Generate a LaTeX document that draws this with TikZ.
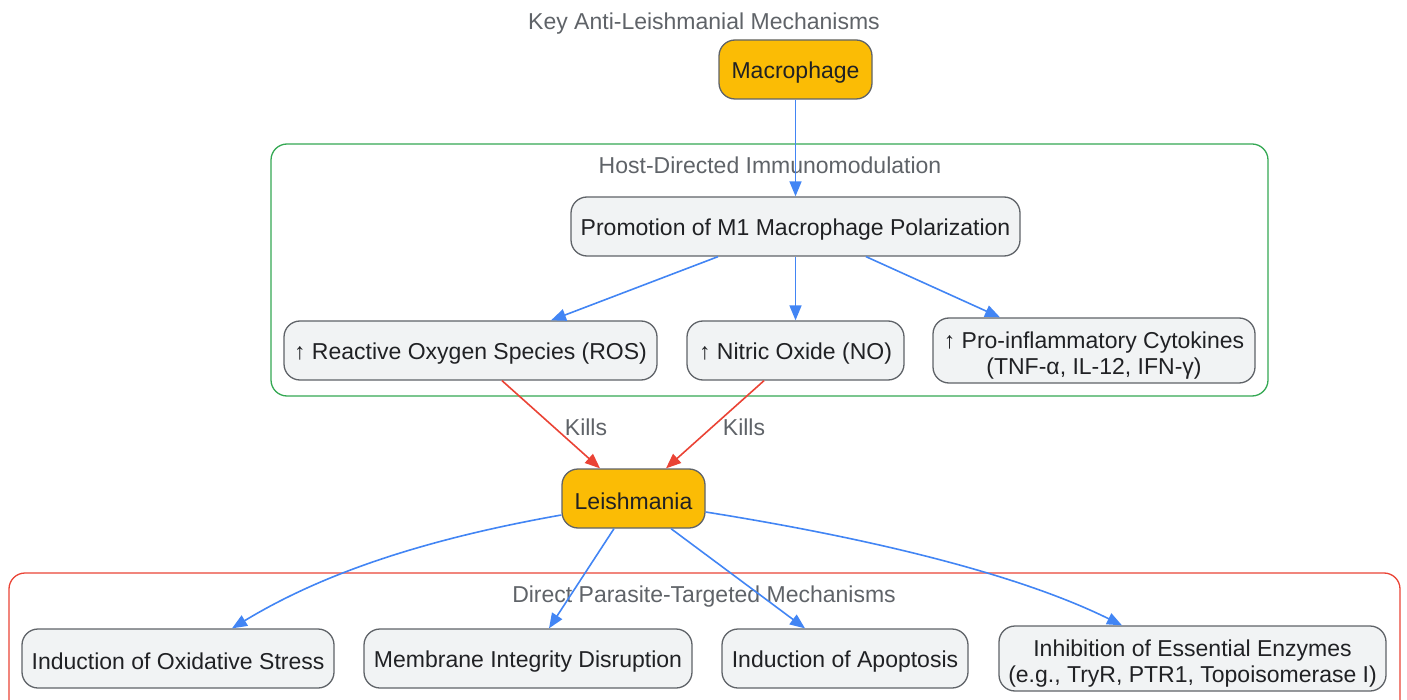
\documentclass[tikz,border=0pt]{standalone}
\usepackage{fontspec}
\setmainfont{Liberation Sans}
\usetikzlibrary{arrows.meta}
\definecolor{nodefill}{HTML}{F1F3F4}
\definecolor{nodeline}{HTML}{5F6368}
\definecolor{gold}{HTML}{FBBC05}
\definecolor{txt}{HTML}{202124}
\definecolor{lbl}{HTML}{5F6368}
\definecolor{eblue}{HTML}{4285F4}
\definecolor{ered}{HTML}{EA4335}
\definecolor{cgreen}{HTML}{34A853}
\tikzset{
  box/.style={draw=nodeline, line width=1.3pt, fill=nodefill, rounded corners=16pt,
    minimum height=59pt, inner xsep=2pt, inner ysep=2pt, align=center, text=txt,
    font=\fontsize{23}{26}\selectfont, execute at begin node={\rule{0pt}{22.5pt}}},
  keybox/.style={box, fill=gold},
  cluster/.style={line width=1.3pt, rounded corners=16pt},
  clabel/.style={text=lbl, font=\fontsize{23}{26}\selectfont},
  bedge/.style={draw=eblue, line width=1.6pt, -{Triangle[length=15pt,width=12pt]}},
  redge/.style={draw=ered, line width=1.6pt, -{Triangle[length=15pt,width=12pt]}},
}
\begin{document}
\begin{tikzpicture}[x=1pt,y=-1pt]
\useasboundingbox (0,0) rectangle (1407,700);
% clusters
\draw[cluster, draw=cgreen] (271,144) rectangle (1268,396);
\draw[cluster, draw=ered] (9,573) rectangle (1400,720);
\node[clabel] (title) at (704,23.5) {Key Anti-Leishmanial Mechanisms};
\node[clabel] (hostlbl) at (770,165.5) {Host-Directed Immunomodulation};
\node[clabel] (directlbl) at (704,596.5) {Direct Parasite-Targeted Mechanisms};
% nodes
\node[keybox, minimum width=153pt] (mac) at (795.5,69.5) {Macrophage};
\node[box, minimum width=449pt] (prom) at (795.5,226.5) {Promotion of M1 Macrophage Polarization};
\node[box, minimum width=373pt] (ros) at (470.5,350.5) {↑ Reactive Oxygen Species (ROS)};
\node[box, minimum width=217pt] (no) at (795.5,350.5) {↑ Nitric Oxide (NO)};
\node[box, minimum width=322pt, minimum height=65pt] (cyt) at (1094,350.5) {\rule{0pt}{26pt}↑ Pro-inflammatory Cytokines\\(TNF-α, IL-12, IFN-γ)};
\node[keybox, minimum width=143pt] (leish) at (633.5,498.5) {Leishmania};
\node[box, minimum width=312pt] (ox) at (178,658.5) {Induction of Oxidative Stress};
\node[box, minimum width=328pt] (mem) at (528,658.5) {Membrane Integrity Disruption};
\node[box, minimum width=246pt] (apo) at (845,658.5) {Induction of Apoptosis};
\node[box, minimum width=387pt, minimum height=65pt] (inh) at (1192.5,658.5) {\rule{0pt}{26pt}Inhibition of Essential Enzymes\\(e.g., TryR, PTR1, Topoisomerase I)};
% edges
\draw[bedge] (mac.south) -- (prom.north);
\draw[bedge] (prom.south -| 718,0) -- (ros.north -| 551,0);
\draw[bedge] (prom.south) -- (no.north);
\draw[bedge] (prom.south -| 866,0) -- (cyt.north -| 1000,0);
\draw[redge] (ros.south -| 502,0) -- (leish.north -| 600,0);
\draw[redge] (no.south -| 764,0) -- (leish.north -| 666,0);
\node[clabel] (k1) at (586,427) {Kills};
\node[clabel] (k2) at (744,427) {Kills};
\draw[bedge] (leish.west |- 0,515) .. controls (420,540) and (320,575) .. (ox.north -| 232,0);
\draw[bedge] (leish.south -| 614,0) -- (mem.north -| 549,0);
\draw[bedge] (leish.south -| 671,0) -- (apo.north -| 805,0);
\draw[bedge] (leish.east |- 0,512) .. controls (850,535) and (1010,570) .. (inh.north -| 1122,0);
\end{tikzpicture}
\end{document}
